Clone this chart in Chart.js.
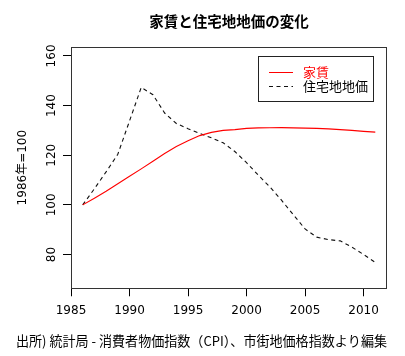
<!DOCTYPE html>
<html>
<head>
<meta charset="utf-8">
<script src="https://cdn.jsdelivr.net/npm/chart.js@4/dist/chart.umd.min.js"></script>
<style>
  html, body { margin: 0; padding: 0; background: #fff; }
  #wrap { width: 405px; height: 356px; }
</style>
</head>
<body>
<div id="wrap"><canvas id="c" width="405" height="356"></canvas></div>
<script>
const years = [1986,1987,1988,1989,1990,1991,1992,1993,1994,1995,1996,1997,1998,1999,2000,2001,2002,2003,2004,2005,2006,2007,2008,2009,2010,2011];
const rent = [100,102.7,105.5,108.5,111.5,114.5,117.6,120.7,123.5,125.8,127.9,129.2,130.0,130.3,130.8,131.0,131.1,131.1,131.0,130.9,130.8,130.6,130.3,130.0,129.6,129.3];
const land = [100,106.5,113.3,120.4,133.8,147.3,144.4,137.0,132.8,130.7,128.8,127.0,125.0,121.5,117.0,112.0,107.2,101.8,96.0,90.3,87.0,86.0,85.5,83.0,80.0,76.8];
const seriesLabels = ['家賃', '住宅地地価'];
const xTicks = [1985,1990,1995,2000,2005,2010];
const yTicks = [80,100,120,140,160];
const titleText = '家賃と住宅地地価の変化';
const yTitle = '1986年=100';
const captionText = '出所) 統計局 - 消費者物価指数（CPI）、市街地価格指数より編集';

const CJK = '"Noto Sans CJK JP", "DejaVu Sans", sans-serif';
const LAT = '"DejaVu Sans", "Noto Sans CJK JP", sans-serif';

const boxPlugin = {
  id: 'boxPlugin',
  afterDraw(chart) {
    const ctx = chart.ctx, a = chart.chartArea;
    ctx.save();
    ctx.strokeStyle = '#333';
    ctx.lineWidth = 1;
    ctx.strokeRect(Math.round(a.left) + 0.5, Math.round(a.top) + 0.5,
                   Math.round(a.right - a.left) - 1, Math.round(a.bottom - a.top));
    // legend
    const lx = 258.5, ly = 56.5, lw = 115, lh = 45;
    ctx.strokeStyle = '#222';
    ctx.strokeRect(lx, ly, lw, lh);
    const rows = [72, 86];
    chart.data.datasets.forEach((ds, i) => {
      ctx.beginPath();
      ctx.strokeStyle = ds.borderColor;
      ctx.lineWidth = 1;
      ctx.setLineDash(ds.borderDash || []);
      ctx.moveTo(269, rows[i] + 0.5);
      ctx.lineTo(293, rows[i] + 0.5);
      ctx.stroke();
      ctx.setLineDash([]);
      ctx.fillStyle = ds.legendTextColor;
      ctx.font = '13px ' + CJK;
      ctx.textBaseline = 'middle';
      ctx.textAlign = 'left';
      ctx.fillText(ds.label, 303, rows[i]);
    });
    ctx.restore();
  }
};

new Chart(document.getElementById('c'), {
  type: 'line',
  data: {
    datasets: [
      { label: seriesLabels[0], data: years.map((y, i) => ({x: y, y: rent[i]})),
        borderColor: '#ff0000', borderWidth: 1.1, pointRadius: 0, tension: 0, fill: false,
        legendTextColor: '#ff0000' },
      { label: seriesLabels[1], data: years.map((y, i) => ({x: y, y: land[i]})),
        borderColor: '#111111', borderWidth: 1.1, borderDash: [4, 3.5], pointRadius: 0, tension: 0, fill: false,
        legendTextColor: '#000000' }
    ]
  },
  options: {
    responsive: false,
    animation: false,
    devicePixelRatio: 1,
    layout: { padding: { left: 16, right: 18, top: 0, bottom: 0 } },
    plugins: {
      legend: { display: false },
      tooltip: { enabled: false },
      title: {
        display: true, text: titleText, fullSize: false,
        color: '#000', font: { family: CJK, size: 14.5, weight: 'bold' },
        padding: { top: 12.3, bottom: 17.3 }
      },
      subtitle: {
        display: true, text: captionText, position: 'bottom',
        color: '#000', font: { family: CJK, size: 13.6 },
        padding: { top: 9.2, bottom: 7.2 }
      }
    },
    scales: {
      x: {
        type: 'linear', min: 1985, max: 2012,
        afterFit: s => { s.height = 35; },
        afterBuildTicks: s => { s.ticks = xTicks.map(v => ({value: v})); },
        ticks: { includeBounds: false, stepSize: 5, color: '#000', padding: 7,
                 font: { family: LAT, size: 12 }, callback: v => String(v), maxRotation: 0 },
        grid: { display: true, drawOnChartArea: false, drawTicks: true, tickLength: 8, color: '#000' },
        border: { display: false }
      },
      y: {
        type: 'linear', min: 66.4, max: 163.6,
        afterFit: s => { s.width = 55; },
        afterBuildTicks: s => { s.ticks = yTicks.map(v => ({value: v})); },
        ticks: { includeBounds: false, stepSize: 20, color: '#000', padding: 0,
                 minRotation: 90, maxRotation: 90, crossAlign: 'center',
                 font: { family: LAT, size: 12 }, callback: v => String(v) },
        grid: { display: true, drawOnChartArea: false, drawTicks: true, tickLength: 8, color: '#000' },
        border: { display: false },
        title: { display: true, text: yTitle, color: '#000', font: { family: LAT, size: 12 },
                 padding: { top: 0, bottom: 0 } }
      }
    }
  },
  plugins: [boxPlugin]
});
</script>
</body>
</html>
